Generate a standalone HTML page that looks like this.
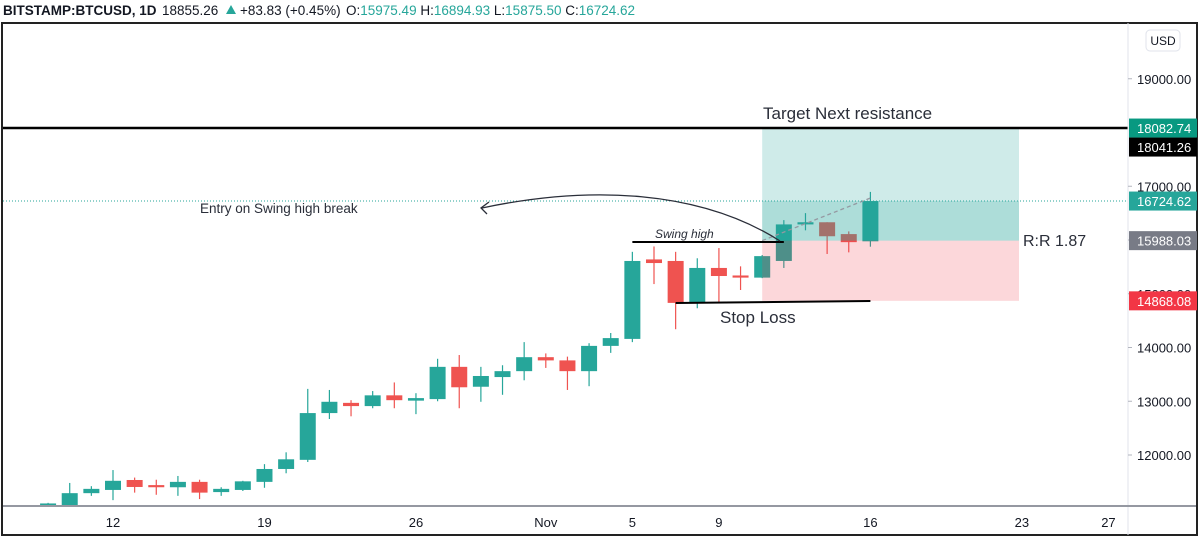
<!DOCTYPE html>
<html><head><meta charset="utf-8"><style>
html,body{margin:0;padding:0;background:#fff;}
body{width:1200px;height:537px;overflow:hidden;font-family:"Liberation Sans",sans-serif;}
svg text{font-family:"Liberation Sans",sans-serif;}
</style></head><body>
<svg id="chart" width="1200" height="537" xmlns="http://www.w3.org/2000/svg">
<rect x="0" y="0" width="1200" height="537" fill="#fff"/>
<g font-size="13.5" fill="#131722">
<text x="3" y="15" font-weight="bold">BITSTAMP:BTCUSD, 1D</text>
<text x="162" y="15">18855.26</text>
<polygon points="226,14 236,14 231,5" fill="#26a69a"/>
<text x="240" y="15">+83.83 (+0.45%)</text>
<text x="346" y="15">O:<tspan fill="#26a69a">15975.49</tspan> H:<tspan fill="#26a69a">16894.93</tspan> L:<tspan fill="#26a69a">15875.50</tspan> C:<tspan fill="#26a69a">16724.62</tspan></text>
</g>
<rect x="2" y="23" width="1195" height="512" fill="none" stroke="#222" stroke-width="2"/>
<g id="boxes"></g>
<g id="candles"></g>
<g id="overlay"></g>
<line x1="1128" y1="23" x2="1128" y2="535" stroke="#e0e3eb"/>
<line x1="3" y1="506" x2="1196" y2="506" stroke="#9598a1" stroke-width="2"/>
<g id="yaxis"></g>
<g id="xaxis"></g>
<rect x="1146" y="30" width="34" height="21" rx="4" fill="#fff" stroke="#e0e3eb"/>
<text x="1163" y="45" text-anchor="middle" font-size="12" fill="#131722">USD</text>
</svg>
<script>
const dates=["Oct 9","Oct 10","Oct 11","Oct 12","Oct 13","Oct 14","Oct 15","Oct 16","Oct 17","Oct 18","Oct 19","Oct 20","Oct 21","Oct 22","Oct 23","Oct 24","Oct 25","Oct 26","Oct 27","Oct 28","Oct 29","Oct 30","Oct 31","Nov 1","Nov 2","Nov 3","Nov 4","Nov 5","Nov 6","Nov 7","Nov 8","Nov 9","Nov 10","Nov 11","Nov 12","Nov 13","Nov 14","Nov 15","Nov 16"];
const opens=[11060,11000,11290,11350,11535,11440,11400,11500,11310,11350,11500,11740,11910,12780,12970,12910,13110,13030,13040,13640,13270,13450,13560,13820,13760,13560,14030,14160,15620,15610,14830,15480,15340,15300,15610,16290,16330,16110,15975.49];
const highs=[11110,11480,11420,11720,11580,11540,11610,11540,11400,11520,11830,12050,13230,13210,13020,13190,13350,13150,13790,13860,13640,13670,14100,13890,13830,14080,14270,15780,15880,15780,15660,15850,15510,15720,16370,16500,16330,16160,16894.93];
const lows=[11000,10950,11240,11160,11300,11260,11240,11180,11240,11330,11390,11660,11870,12670,12720,12870,12870,12760,13000,12870,12990,13120,13390,13620,13210,13280,13900,14100,15180,14340,14730,14830,15070,15290,15480,16180,15740,15770,15875.50];
const closes=[11080,11290,11370,11520,11405,11400,11500,11300,11370,11510,11740,11920,12780,12990,12910,13110,13020,13040,13640,13260,13470,13560,13820,13760,13560,14030,14175,15610,15590,14830,15480,15330,15300,15700,16290,16330,16070,15960,16724.62];
const yTicks=[12000,13000,14000,15000,16000,17000,19000];
const xTickLabels=["12","19","26","Nov","5","9","16","23","27"];
const xTickIdx=[3,10,17,23,27,31,38,45,49];
const levels=[18082.74,18041.26,16724.62,15988.03,14868.08];
const levelColors=["#089981","#000000","#26a69a","#787b86","#f23645"];

const NS="http://www.w3.org/2000/svg";
function y(p){return 455-(p-12000)*0.05375;}
function x(i){return 113+(i-3)*21.64;}
function mk(tag,attrs,parent,text){const e=document.createElementNS(NS,tag);for(const k in attrs)e.setAttribute(k,attrs[k]);if(text!=null)e.textContent=text;parent.appendChild(e);return e;}
const cg=document.getElementById('candles');
for(let i=0;i<dates.length;i++){
  const up=closes[i]>=opens[i];const col=up?"#26a69a":"#ef5350";
  const g=mk('g',{},cg);
  
  
  const cx=x(i);
  const yt=Math.min(y(highs[i]),506),yb=Math.min(y(lows[i]),506);
  mk('line',{x1:cx,y1:yt,x2:cx,y2:yb,stroke:col,'stroke-width':1.2},g);
  let t=Math.min(y(opens[i]),y(closes[i])),b=Math.max(y(opens[i]),y(closes[i]));
  b=Math.min(b,506);if(b-t<2){t-=1;b+=1;}
  mk('rect',{x:cx-8,y:t,width:16,height:b-t,fill:col},g);
}
const ov=document.getElementById('overlay');
const bx1=x(34)-21.64,bx2=1019;
let r;
r=mk('rect',{x:bx1,y:y(18082.74),width:bx2-bx1,height:y(15988.03)-y(18082.74),fill:"rgba(38,166,154,0.22)"},ov);

r=mk('rect',{x:bx1,y:y(16724.62),width:bx2-bx1,height:y(15988.03)-y(16724.62),fill:"rgba(38,166,154,0.2)"},ov);

r=mk('rect',{x:bx1,y:y(15988.03),width:bx2-bx1,height:y(14868.08)-y(15988.03),fill:"rgba(242,54,69,0.2)"},ov);

r=mk('line',{x1:bx1,y1:y(15988.03),x2:x(38),y2:y(16724.62)-3,stroke:"#9598a1",'stroke-width':1.3,'stroke-dasharray':"4,3"},ov);

r=mk('line',{x1:3,y1:y(16724.62),x2:1128,y2:y(16724.62),stroke:"#26a69a",'stroke-width':1,'stroke-dasharray':"1,2"},ov);

r=mk('line',{x1:3,y1:y(18082.74),x2:1128,y2:y(18082.74),stroke:"#000",'stroke-width':2.5},ov);

r=mk('line',{x1:x(27),y1:242,x2:x(34),y2:242,stroke:"#000",'stroke-width':2},ov);

r=mk('line',{x1:x(29),y1:303,x2:x(38),y2:301,stroke:"#000",'stroke-width':2},ov);

r=mk('path',{d:"M780,241 C700,190 590,185 482,208",fill:"none",stroke:"#2a2e39",'stroke-width':1.3},ov);

r=mk('path',{d:"M489,202 L481,208 L487,214",fill:"none",stroke:"#2a2e39",'stroke-width':1.3},ov);

r=mk('text',{x:763,y:119,'font-size':17,fill:"#2a2e39"},ov,"Target Next resistance");

r=mk('text',{x:200,y:213,'font-size':13.5,fill:"#2a2e39"},ov,"Entry on Swing high break");

r=mk('text',{x:655,y:238,'font-size':12,fill:"#2a2e39",'font-style':"italic"},ov,"Swing high");

r=mk('text',{x:720,y:323,'font-size':17,fill:"#2a2e39"},ov,"Stop Loss");

r=mk('text',{x:1023,y:246,'font-size':16,fill:"#2a2e39"},ov,"R:R 1.87");

const ya=document.getElementById('yaxis');
for(const t of yTicks){
  mk('line',{x1:1128,y1:y(t),x2:1132,y2:y(t),stroke:"#b2b5be"},ya);
  const tx=mk('text',{x:1137,y:y(t)+5,'font-size':13,fill:"#131722"},ya,t.toFixed(2));
  
  
}
for(let i=0;i<levels.length;i++){
  let yy=y(levels[i]);if(i===1)yy=y(levels[0])+19;
  const g=mk('g',{},ya);
  
  
  mk('rect',{x:1129,y:yy-9.5,width:68,height:19,fill:levelColors[i]},g);
  mk('text',{x:1137,y:yy+5,'font-size':13,fill:"#fff"},g,levels[i].toFixed(2));
}
const xa=document.getElementById('xaxis');
for(let k=0;k<xTickLabels.length;k++){
  const tx=mk('text',{x:x(xTickIdx[k]),y:527,'font-size':13,fill:"#131722",'text-anchor':"middle"},xa,xTickLabels[k]);
  
  
}
</script>
</body></html>
